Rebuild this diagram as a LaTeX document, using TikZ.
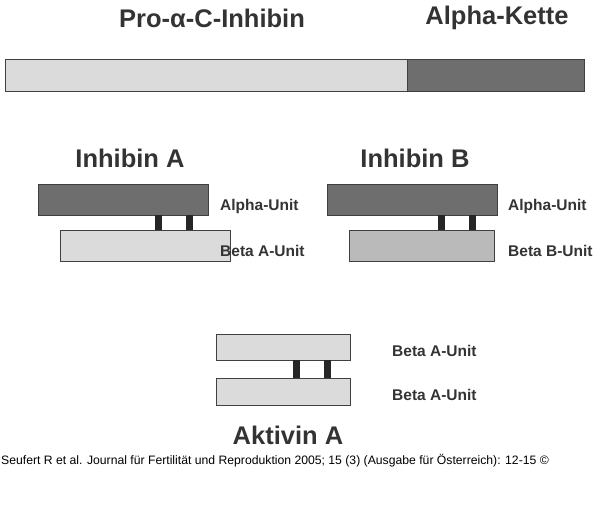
\documentclass[tikz,border=0pt]{standalone}
\usepackage{fontspec}
\setmainfont{Liberation Sans}
\begin{document}
\begin{tikzpicture}[x=1pt,y=-1pt,
  bx/.style={draw=black!75,line width=0.8pt},
  lt/.style={bx,fill=black!14},
  dk/.style={bx,fill=black!57},
  md/.style={bx,fill=black!27},
  link/.style={fill=black!85,draw=none},
  ttl/.style={font=\fontsize{25.5}{28}\selectfont\bfseries,text=black!80},
  lbl/.style={font=\fontsize{15.5}{17}\selectfont\bfseries,text=black!80,anchor=west,inner sep=0pt}]
\useasboundingbox (0,0) rectangle (600,512);
\node[ttl] (t1) at (212,18) {Pro-α-C-Inhibin};
\node[ttl] (t2) at (497,18) {Alpha-Kette};
\path[lt] (5,59) rectangle (407,91);
\path[dk] (407,59) rectangle (584,91);
\node[ttl] (ia) at (130,158) {Inhibin A};
\node[ttl] (ib) at (415,158) {Inhibin B};
% Inhibin A
\path[dk] (38,184) rectangle (208,215);
\path[lt] (60,230) rectangle (230,261);
\path[link] (155,215) rectangle (162,230);
\path[link] (186,215) rectangle (193,230);
\node[lbl] (a1) at (220,206) {Alpha-Unit};
\node[lbl] (a2) at (220,251) {Beta A-Unit};
% Inhibin B
\path[dk] (327,184) rectangle (497,215);
\path[md] (349,230) rectangle (494,261);
\path[link] (438,215) rectangle (445,230);
\path[link] (469,215) rectangle (476,230);
\node[lbl] (b1) at (508,206) {Alpha-Unit};
\node[lbl] (b2) at (508,251) {Beta B-Unit};
% Aktivin
\path[lt] (216,334) rectangle (350,360);
\path[lt] (216,378) rectangle (350,405);
\path[link] (293,360) rectangle (300,378);
\path[link] (324,360) rectangle (331,378);
\node[lbl] (c1) at (392,351) {Beta A-Unit};
\node[lbl] (c2) at (392,395) {Beta A-Unit};
\node[ttl] (ak) at (288,435) {Aktivin A};
\node[anchor=west,font=\fontsize{12.2}{14}\selectfont,inner sep=0pt] (ft) at (1,461) {Seufert R et al. Journal für Fertilität und Reproduktion 2005; 15 (3) (Ausgabe für Österreich): 12-15 ©};
\end{tikzpicture}
\end{document}
